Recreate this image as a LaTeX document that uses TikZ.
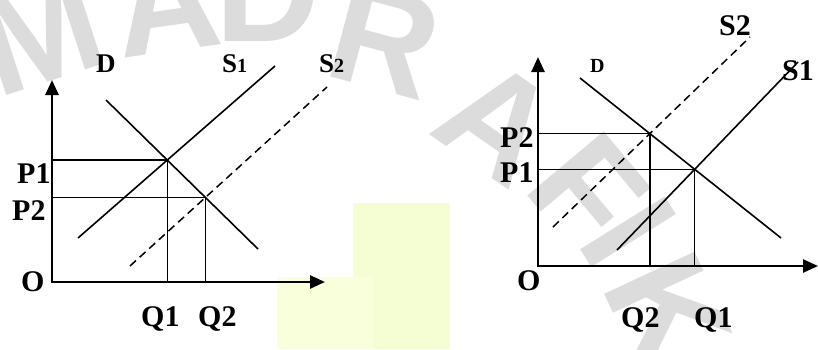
\documentclass[tikz,border=0pt]{standalone}
\usepackage{fontspec}
\setmainfont{Liberation Serif}
\newfontfamily\wmfont{Liberation Sans}
\usetikzlibrary{arrows.meta}
\definecolor{wmgray}{RGB}{220,220,220}
\definecolor{pale}{RGB}{249,255,218}
\definecolor{paleb}{RGB}{245,253,210}
\begin{document}
\begin{tikzpicture}[x=1pt,y=-1pt,
  axes/.style={line width=2.6pt,{Triangle[length=15pt,width=13pt]}-{Triangle[length=15pt,width=13pt]}},
  curve/.style={line width=1.6pt},
  dcurve/.style={line width=1.5pt,dash pattern=on 8pt off 5pt},
  guide/.style={line width=1.4pt},
  lbl/.style={inner sep=0pt,anchor=base west,font=\fontsize{30}{30}\selectfont\bfseries},
  slbl/.style={inner sep=0pt,anchor=base west,font=\fontsize{27}{27}\selectfont\bfseries},
  tlbl/.style={inner sep=0pt,anchor=base west,font=\fontsize{20}{20}\selectfont\bfseries},
  wm/.style={text=wmgray,font=\wmfont\bfseries\fontsize{145}{145}\selectfont,inner sep=0pt}
]
\useasboundingbox[fill=white] (0,0) rectangle (818,349);
% background blocks
\fill[paleb] (353,203) rectangle (450,349);
\fill[pale] (277,277) rectangle (373,349);
% watermark
\node[wm,rotate=18] (wM) at (40,32) {M};
\node[wm,rotate=8] (wA1) at (166,2) {A};
\node[wm] (wD) at (268,-8) {D};
\node[wm,rotate=-15] (wR) at (385,40) {R};
\node[wm,rotate=-35] (wA2) at (498,122) {A};
\node[wm,rotate=-50] (wF) at (588,190) {F};
\node[wm,rotate=-58] (wI) at (628,232) {I};
\node[wm,rotate=-65] (wK) at (668,312) {K};

% ---------- left diagram ----------
\coordinate (lo) at (52,282);
\coordinate (ly) at (52,80);
\coordinate (lx) at (325,282);
\coordinate (lD1) at (106,100);
\coordinate (lD2) at (258,249);
\coordinate (lSa1) at (78,238);
\coordinate (lSa2) at (275,66);
\coordinate (lSb1) at (130,266);
\coordinate (lSb2) at (327,87);
\draw[axes] (ly) -- (lo) -- (lx);
\draw[curve] (lD1) -- (lD2);
\draw[curve] (lSa1) -- (lSa2);
\draw[dcurve] (lSb1) -- (lSb2);
\coordinate (lE1) at (intersection of lD1--lD2 and lSa1--lSa2);
\coordinate (lE2) at (intersection of lD1--lD2 and lSb1--lSb2);
\draw[guide] (lE1 -| lo) -- (lE1) -- (lE1 |- lo);
\draw[guide] (lE2 -| lo) -- (lE2) -- (lE2 |- lo);
\node[slbl] (lDl) at (96,72) {D};
\node[slbl] (lS1l) at (222,72) {S{\fontsize{20}{20}\selectfont 1}};
\node[slbl] (lS2l) at (319,72) {S{\fontsize{20}{20}\selectfont 2}};
\node[lbl] (lP1) at (17,183) {P1};
\node[lbl] (lP2) at (12,220) {P2};
\node[lbl] (lO) at (21,291) {O};
\node[lbl] (lQ1) at (141,326) {Q1};
\node[lbl] (lQ2) at (198,326) {Q2};

% ---------- right diagram ----------
\coordinate (ro) at (538,266);
\coordinate (ry) at (538,57);
\coordinate (rx) at (818,266);
\coordinate (rD1) at (580,78);
\coordinate (rD2) at (781,238);
\coordinate (rSa1) at (617,250);
\coordinate (rSa2) at (798,62);
\coordinate (rSb1) at (553,227);
\coordinate (rSb2) at (750,37);
\draw[axes] (ry) -- (ro) -- (rx);
\draw[curve] (rD1) -- (rD2);
\draw[curve] (rSa1) -- (rSa2);
\draw[dcurve] (rSb1) -- (rSb2);
\coordinate (rE1) at (intersection of rD1--rD2 and rSa1--rSa2);
\coordinate (rE2) at (intersection of rD1--rD2 and rSb1--rSb2);
\draw[guide] (rE1 -| ro) -- (rE1) -- (rE1 |- ro);
\draw[guide] (rE2 -| ro) -- (rE2) -- (rE2 |- ro);
\node[tlbl] (rDl) at (590,72) {D};
\node[lbl] (rS2l) at (719,35) {S2};
\node[lbl] (rS1l) at (782,80) {S1};
\node[lbl] (rP2) at (500,147) {P2};
\node[lbl] (rP1) at (500,182) {P1};
\node[lbl] (rO) at (517,290) {O};
\node[lbl] (rQ2) at (621,327) {Q2};
\node[lbl] (rQ1) at (694,327) {Q1};
\end{tikzpicture}
\end{document}
